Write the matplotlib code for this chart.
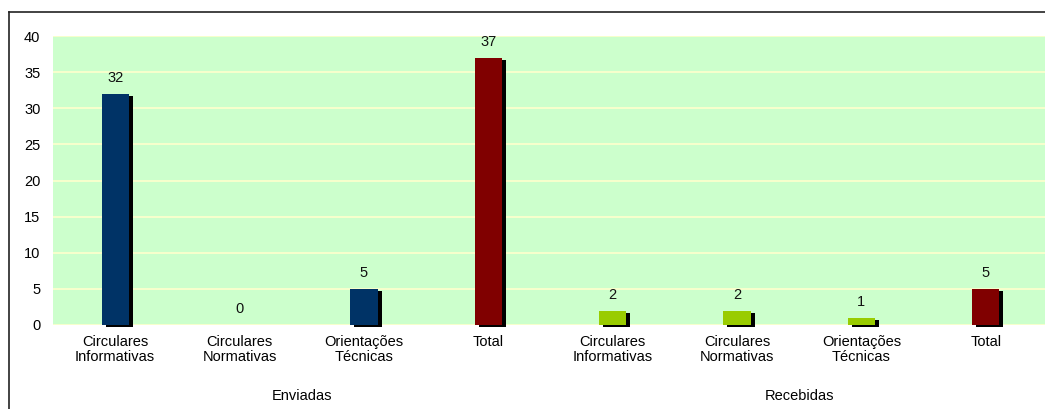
import matplotlib.pyplot as plt
from matplotlib.lines import Line2D

plt.rcParams['font.family'] = ['Liberation Sans', 'DejaVu Sans']

# Counts of documents sent and received
categories = ["Circulares\nInformativas", "Circulares\nNormativas", "Orientações\nTécnicas", "Total",
              "Circulares\nInformativas", "Circulares\nNormativas", "Orientações\nTécnicas", "Total"]
values = [32, 0, 5, 37, 2, 2, 1, 5]
bar_colors = ["#003366", "#003366", "#003366", "#800000",
              "#99CC00", "#99CC00", "#99CC00", "#800000"]
groups = ["Enviadas", "Recebidas"]
y_ticks = [0, 5, 10, 15, 20, 25, 30, 35, 40]

W, H = 1045, 409
fs = 10.5
fig = plt.figure(figsize=(W / 100, H / 100), dpi=100)
ax = fig.add_axes([53 / W, (H - 325) / H, (1048 - 53) / W, (325 - 36) / H])
ax.set_facecolor("#CCFFCC")

x = list(range(len(values)))
width = 0.22
# drop shadows: shifted a few pixels right and down
dx = 4 / 124.3
dy = 2 / 36 * 5
for xi, v in zip(x, values):
    if v > 0:
        ax.bar(xi + dx, v, width=width, bottom=-dy, color="black", zorder=2, clip_on=False)
ax.bar(x, values, width=width, color=bar_colors, zorder=3)

for xi, v in zip(x, values):
    ax.annotate(str(v), (xi, v), xytext=(0, 11.5), textcoords="offset points",
                ha="center", va="center", fontsize=fs, color="#111111")

ax.set_xlim(-0.5, len(values) - 0.5)
ax.set_ylim(0, 40)
ax.set_yticks(y_ticks)
ax.yaxis.grid(True, color="#FFFFCC", linewidth=1.2, zorder=1)
ax.set_axisbelow(True)
for s in ax.spines.values():
    s.set_visible(False)
ax.tick_params(axis="y", length=0, pad=9, labelsize=fs)
ax.set_xticks(x)
ax.set_xticklabels(categories, fontsize=fs, linespacing=1.1)
ax.tick_params(axis="x", length=0, pad=7)

# group labels under each half
for i, g in enumerate(groups):
    ax.text(1.5 + 4 * i, -0.245, g, transform=ax.get_xaxis_transform(),
            ha="center", va="center", fontsize=fs)

# outer frame
fig.add_artist(Line2D([9 / W, 9 / W], [0, 1 - 12 / H], transform=fig.transFigure,
                      color="#222222", linewidth=1.2))
fig.add_artist(Line2D([9 / W, 1], [1 - 12 / H, 1 - 12 / H], transform=fig.transFigure,
                      color="#222222", linewidth=1.2))

fig.savefig("out.png", dpi=100)
